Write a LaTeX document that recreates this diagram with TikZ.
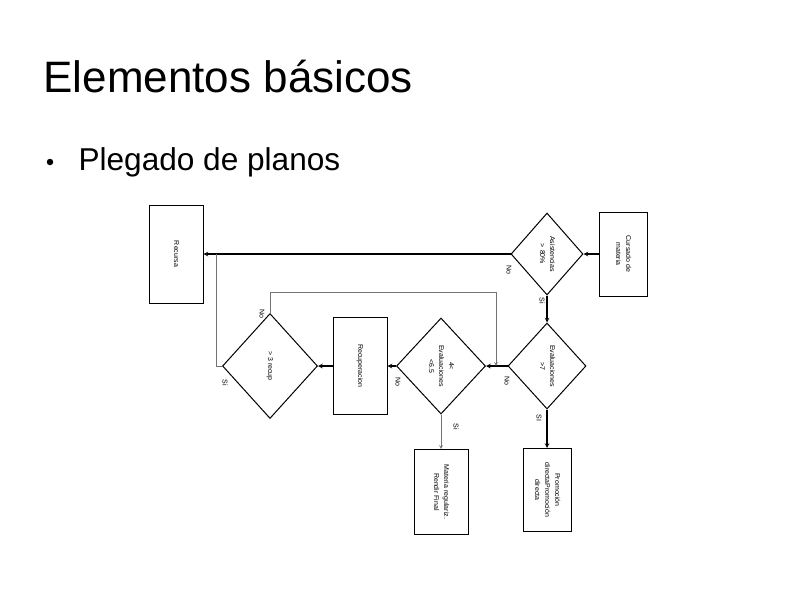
\documentclass[tikz,border=0pt]{standalone}
\usepackage{fontspec}
\setmainfont{Liberation Sans}
\usetikzlibrary{shapes.geometric, arrows}
\tikzstyle{arrow} = [line width=1.1pt,->,>=stealth]
\tikzstyle{thinarrow} = [line width=0.7pt,->,>=stealth,black!55]
\tikzstyle{proc} = [rectangle, draw, line width=1pt, inner sep=0pt, font=\fontsize{7}{10}\selectfont]
\tikzstyle{decision} = [diamond, draw, line width=1pt, inner sep=0pt, font=\fontsize{7}{10}\selectfont]
\tikzstyle{lbl} = [inner sep=0pt, font=\fontsize{7}{8}\selectfont]
\newcommand{\vtxt}[1]{\rotatebox{-90}{\begin{tabular}{@{}c@{}}#1\end{tabular}}}

\begin{document}
\begin{tikzpicture}[x=1pt, y=-1pt]
    \useasboundingbox (0,0) rectangle (794,595);

    \node (titulo) [anchor=base west, font=\fontsize{44}{50}\selectfont] at (40,92) {Elementos básicos};
    \node (vineta) [circle, fill, inner sep=0pt, minimum size=6.5] at (50,162) {};
    \node (item) [anchor=base west, font=\fontsize{31.6}{36}\selectfont] at (75,170) {Plegado de planos};

    \node (recursa) [proc, minimum width=54, minimum height=98] at (176,254) {\vtxt{Recursa}};
    \node (cursado) [proc, minimum width=48, minimum height=84] at (623,254) {\vtxt{Cursado de\\materia}};
    \node (asist) [decision, minimum width=72, minimum height=82] at (547,254) {\vtxt{Asistencias\\> 80\%}};
    \node (eval7) [decision, minimum width=78, minimum height=86] at (547,366) {\vtxt{Evaluaciones\\>7}};
    \node (eval4) [decision, minimum width=89, minimum height=96] at (441,366) {\vtxt{4<\\Evaluaciones\\<6.5}};
    \node (recup) [proc, minimum width=54, minimum height=97] at (360,366) {\vtxt{Recuperacion}};
    \node (recup3) [decision, minimum width=95, minimum height=105] at (270,366) {\vtxt{> 3 recup}};
    \node (regular) [proc, minimum width=54, minimum height=85] at (441,492) {\vtxt{Materia regulariz.\\Rendir Final}};
    \node (promo) [proc, minimum width=48, minimum height=83] at (547,490) {\vtxt{Promoción\\directaPromoción\\directa}};

    % Edges
    \draw[arrow] (cursado.west) -- (asist.east);
    \draw[arrow] (asist.west) -- (recursa.east);
    \draw[arrow] (asist.south) -- (eval7.north);
    \draw[arrow] (eval7.west) -- (eval4.east);
    \draw[arrow] (eval7.south) -- (promo.north);
    \draw[arrow] (eval4.west) -- (recup.east);
    \draw[thinarrow] (eval4.south) -- (regular.north);
    \draw[arrow] (recup.west) -- (recup3.east);
    \coordinate (codoA) at (496,292);
    \draw[thinarrow] (recup3.north) |- (codoA) -- (codoA |- eval7.west);
    \coordinate (codoB) at (216,254);
    \draw[line width=0.7pt, black!55] (recup3.west) -| (codoB);

    % labels
    \node (noA) [lbl] at (509,270) {\rotatebox{-90}{No}};
    \node (siA) [lbl] at (542,301) {\rotatebox{-90}{Si}};
    \node (noB) [lbl] at (507,381) {\rotatebox{-90}{No}};
    \node (siB) [lbl] at (539,418) {\rotatebox{-90}{SI}};
    \node (noC) [lbl] at (398,382) {\rotatebox{-90}{No}};
    \node (siC) [lbl] at (456,427) {\rotatebox{-90}{Si}};
    \node (noD) [lbl] at (262,314) {\rotatebox{-90}{No}};
    \node (siD) [lbl] at (225,383) {\rotatebox{-90}{Si}};
   \end{tikzpicture}
\end{document}
